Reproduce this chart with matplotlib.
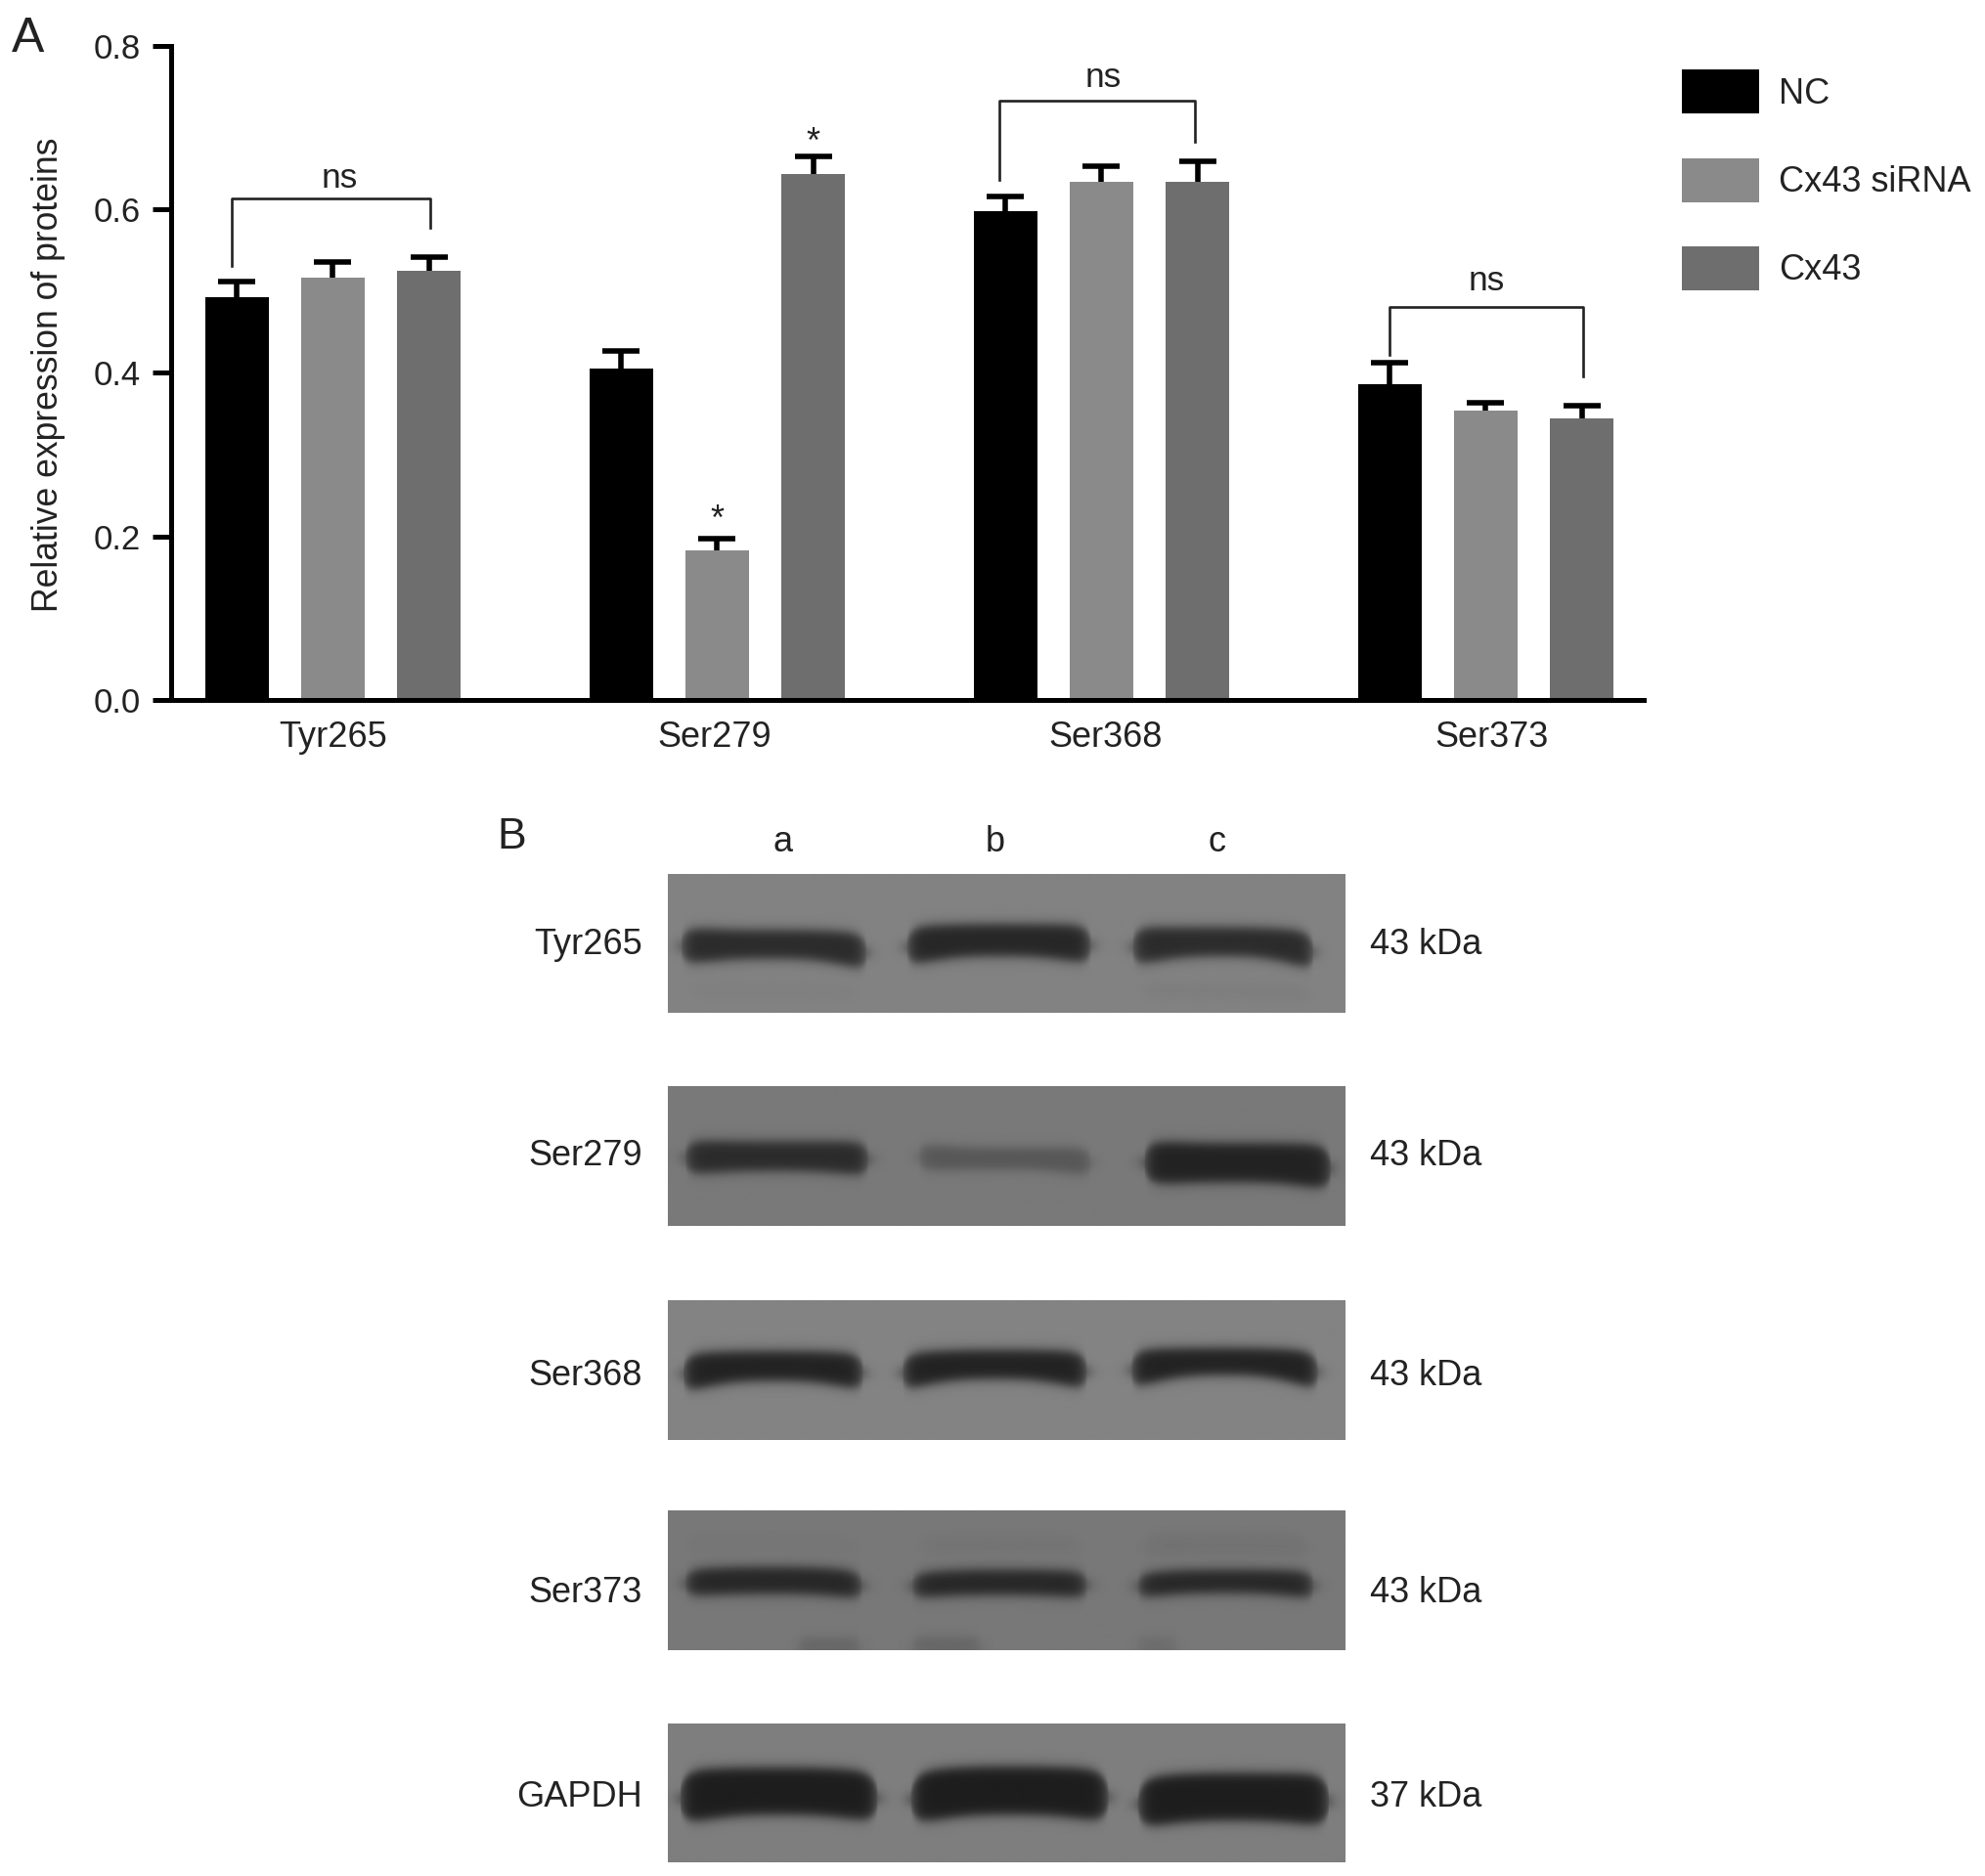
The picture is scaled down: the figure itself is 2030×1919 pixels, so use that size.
import numpy as np
import matplotlib
matplotlib.use("Agg")
import matplotlib.pyplot as plt

plt.rcParams['font.family'] = ['Liberation Sans', 'DejaVu Sans']

W, H = 2031, 1919
S = W / 1568  # coordinates below

sites = ["Tyr265", "Ser279", "Ser368", "Ser373"]
groups = ["NC", "Cx43 siRNA", "Cx43"]
colors = ["#000000", "#8a8a8a", "#6e6e6e"]
nc = [0.492, 0.405, 0.598, 0.386]
sirna = [0.517, 0.183, 0.634, 0.354]
cx43 = [0.525, 0.643, 0.634, 0.344]
nc_err = [0.020, 0.022, 0.018, 0.026]
sirna_err = [0.018, 0.015, 0.019, 0.010]
cx43_err = [0.016, 0.021, 0.024, 0.016]
label_pos = [1.0, 4.97, 9.04, 13.06]
yticks = [0.0, 0.2, 0.4, 0.6, 0.8]

# x0, x1, top of bracket, left foot, right foot, label x, label y
brackets = [(-0.05, 2.01, 0.613, 0.531, 0.577, 1.07, 0.638),
            (7.94, 9.97, 0.733, 0.636, 0.682, 9.02, 0.761),
            (12.0, 14.01, 0.480, 0.422, 0.396, 13.01, 0.5125)]
stars = [(5.0, 0.220), (6.0, 0.681)]

blot_names = ["Tyr265", "Ser279", "Ser368", "Ser373", "GAPDH"]
blot_sizes = ["43 kDa", "43 kDa", "43 kDa", "43 kDa", "37 kDa"]
blot_tops = [690, 858, 1027, 1193, 1361]
blot_label_y = [746, 913, 1087, 1258, 1419]
blot_bg = [130, 121, 131, 120, 126]
lanes = ["a", "b", "c"]
lane_x = [618, 786, 961]

# bands: x0, x1, top (left, mid, right), bottom (left, mid, right), strength
# numbers as read in the zoomed crops, with crop y of panel top and bottom
bands = [
    (222, 650, [(292, 575, (400, 410, 420), (490, 468, 510), 0.95),
                (637, 918, (400, 392, 395), (495, 460, 490), 1.0),
                (982, 1258, (400, 402, 415), (495, 460, 510), 0.95),
                (310, 560, (570, 575, 580), (590, 590, 600), 0.03),
                (1000, 1250, (570, 575, 585), (590, 590, 605), 0.05)]),
    (872, 1300, [(298, 578, (1050, 1055, 1055), (1130, 1115, 1135), 0.95),
                 (655, 918, (1060, 1075, 1075), (1115, 1110, 1135), 0.42),
                 (1000, 1285, (1050, 1060, 1065), (1160, 1150, 1180), 1.05)]),
    (75, 437, [(295, 570, (225, 218, 225), (305, 270, 300), 1.05),
               (630, 912, (225, 215, 220), (300, 265, 298), 1.05),
               (980, 1265, (215, 210, 220), (295, 255, 300), 1.05)]),
    (620, 982, [(298, 568, (785, 778, 790), (830, 822, 838), 1.0),
                (645, 912, (795, 785, 790), (835, 825, 835), 1.0),
                (990, 1258, (795, 785, 790), (835, 820, 838), 1.0),
                (300, 560, (690, 695, 700), (725, 720, 730), 0.03),
                (660, 900, (695, 695, 695), (725, 720, 725), 0.05),
                (1000, 1250, (690, 690, 695), (735, 725, 735), 0.07),
                (470, 565, (962, 962, 962), (985, 985, 985), 0.22),
                (645, 750, (960, 960, 960), (985, 985, 985), 0.22),
                (990, 1050, (962, 962, 962), (985, 985, 985), 0.15)]),
    (1170, 1532, [(290, 592, (1305, 1298, 1310), (1425, 1395, 1420), 1.1),
                  (643, 945, (1310, 1295, 1305), (1425, 1395, 1420), 1.1),
                  (990, 1282, (1325, 1312, 1315), (1435, 1410, 1430), 1.1)]),
]

fig = plt.figure(figsize=(W / 100, H / 100), dpi=100, facecolor="white")


def rect(x0, y0, x1, y1):
    return [x0 * S / W, 1 - y1 * S / H, (x1 - x0) * S / W, (y1 - y0) * S / H]


def ftext(x, y, s, **kw):
    kw.setdefault("color", "#222222")
    fig.text(x * S / W, 1 - y * S / H, s, **kw)


ax = fig.add_axes(rect(135, 36, 1298, 553))
step = 75.85
ax.set_xlim((135 - 187) / step, (1298 - 187) / step)
ax.set_ylim(0, 0.8)

for j, (vals, errs) in enumerate(zip([nc, sirna, cx43], [nc_err, sirna_err, cx43_err])):
    xs = [4 * i + j for i in range(len(sites))]
    ax.bar(xs, vals, width=0.665, color=colors[j], label=groups[j], zorder=2)
    ax.errorbar(xs, vals, yerr=errs, ls="", ecolor="black",
                elinewidth=4, capsize=14, capthick=4, zorder=1)

for x0, x1, top, left, right, lx, ly in brackets:
    ax.plot([x0, x0, x1, x1], [left, top, top, right], color="#222222", lw=1.9, clip_on=False)
    ax.text(lx, ly, "ns", ha="center", va="center", fontsize=25.5, color="#222222")
for x, y in stars:
    ax.text(x, y, "*", ha="center", va="center", fontsize=26, color="#222222")

for s in ["top", "right"]:
    ax.spines[s].set_visible(False)
for s in ["left", "bottom"]:
    ax.spines[s].set_linewidth(3.6)
ax.set_yticks(yticks)
ax.set_yticklabels(["%.1f" % v for v in yticks], fontsize=25, color="#222222")
ax.tick_params(axis="y", length=14, width=3.6, pad=8.5)
ax.set_xticks(label_pos)
ax.set_xticklabels(sites, fontsize=26, color="#222222")
ax.tick_params(axis="x", length=0, pad=15)
ax.set_ylabel("Relative expression of proteins", fontsize=25.6, color="#222222")
ax.yaxis.set_label_coords((52 - 135) / (1298 - 135), (553 - 296) / 517)

leg = fig.legend(loc="upper left", bbox_to_anchor=(1328 * S / W, 1 - 55 * S / H), frameon=False,
                 fontsize=26, handlelength=2.19, handleheight=1.55, labelspacing=1.25,
                 handletextpad=0.55, borderpad=0, borderaxespad=0, labelcolor="#222222")

ftext(22, 31, "A", fontsize=36, ha="center", va="center")
ftext(404, 661, "B", fontsize=32, ha="center", va="center")

yy_h = 110
for k, name in enumerate(blot_names):
    top = blot_tops[k]
    bx = fig.add_axes(rect(527, top, 1062, top + yy_h))
    h, w = int(yy_h * S), int(535 * S)
    xx, yy = np.meshgrid(np.arange(w) / w, np.arange(h) / h)
    dark = np.zeros((h, w))
    ref_top, ref_bot, rows = bands[k]
    for x0, x1, tops, bots, strength in rows:
        f0, f1 = (x0 - 272) / 1036, (x1 - 272) / 1036
        t = np.clip((xx - f0) / (f1 - f0), 0, 1)
        u = 2 * t - 1
        fy_top = [(v - ref_top) / (ref_bot - ref_top) for v in tops]
        fy_bot = [(v - ref_top) / (ref_bot - ref_top) for v in bots]
        # edges stay near the mid value and bend towards the ends of the band
        end_top = np.where(u < 0, fy_top[0], fy_top[2])
        end_bot = np.where(u < 0, fy_bot[0], fy_bot[2])
        e_top = fy_top[1] + (end_top - fy_top[1]) * np.abs(u) ** 2.5
        e_bot = fy_bot[1] + (end_bot - fy_bot[1]) * np.abs(u) ** 2.5
        # round off the ends
        centre = (e_top + e_bot) / 2
        half = (e_bot - e_top) / 2 * np.clip(1 - np.abs(u) ** 10, 0, 1) ** 0.5 + 0.035
        soft_y = 0.045
        soft_x = 0.013
        m = 0.25 * (1 + np.tanh((yy - centre + half) / soft_y)) * (1 + np.tanh((centre + half - yy) / soft_y))
        m *= 0.25 * (1 + np.tanh((xx - f0) / soft_x)) * (1 + np.tanh((f1 - xx) / soft_x))
        dark = np.maximum(dark, m * strength)
    img = blot_bg[k] - np.clip(dark, 0, 1.1) * (blot_bg[k] - 38)
    bx.imshow(img, cmap="gray", vmin=0, vmax=255, aspect="auto", interpolation="bilinear")
    bx.axis("off")
    ftext(507, blot_label_y[k], name, fontsize=26, ha="right", va="center")
    ftext(1082, blot_label_y[k], blot_sizes[k], fontsize=26, ha="left", va="center")

for x, s in zip(lane_x, lanes):
    ftext(x, 665, s, fontsize=26, ha="center", va="center")

fig.savefig("out.png", dpi=100)
